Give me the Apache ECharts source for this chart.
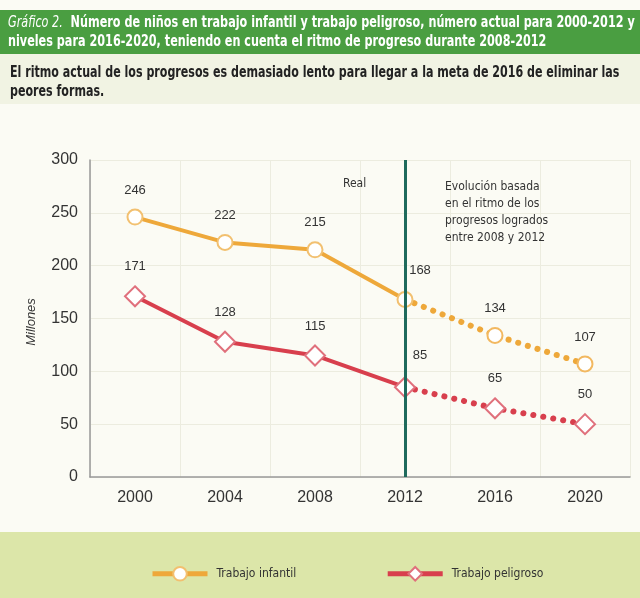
<!DOCTYPE html>
<html><head><meta charset="utf-8">
<script src="https://cdn.jsdelivr.net/npm/echarts@6/dist/echarts.min.js"></script>
<style>html,body{margin:0;padding:0;background:#fbfbf4}#c{width:640px;height:598px}</style>
</head><body><div id="c"></div>
<script>
const categories = ['2000','2004','2008','2012','2016','2020'];
const infantilReal = [246, 222, 215, 168, null, null];
const infantilProj = [null, null, null, 168, 134, 107];
const peligrosoReal = [171, 128, 115, 85, null, null];
const peligrosoProj = [null, null, null, 85, 65, 50];
const yTicks = [0, 50, 100, 150, 200, 250, 300];

const ORANGE = '#eea83a', RED = '#d83f4d';
const FONT = '"Liberation Sans Narrow","DejaVu Sans Condensed",sans-serif';
const LFONT = '"Liberation Sans",sans-serif';

function realData(arr){
  return arr.map((v,i)=> v===null ? null : (i===3 ? {value:v, label:{offset:[15,-2]}} : v));
}
function projData(arr){
  return arr.map((v,i)=> v===null ? null : (i===3 ? {value:v, symbol:'none', label:{show:false}} : v));
}
const labelCfg = {show:true, position:'top', distance:12, color:'#333', fontSize:13, fontFamily:LFONT};

const chart = echarts.init(document.getElementById('c'));
chart.setOption({
  backgroundColor:'#fbfbf4',
  animation:false,
  graphic:[
    {type:'rect', shape:{x:0,y:10,width:640,height:44}, style:{fill:'#4a9e41'}, z:-10},
    {type:'rect', shape:{x:0,y:54,width:640,height:50}, style:{fill:'#f1f3e3'}, z:-10},
    {type:'rect', shape:{x:0,y:532,width:640,height:66}, style:{fill:'#dce6a9'}, z:-10},
    {type:'text', z:20, x:8, y:13, scaleX:0.805, style:{rich:{
        a:{fontStyle:'italic', fontSize:15.5, fill:'#fff', fontFamily:FONT},
        b:{fontWeight:'bold', fontSize:15.5, fill:'#fff', fontFamily:FONT}},
      text:'{a|Gráfico 2.}{b|  Número de niños en trabajo infantil y trabajo peligroso, número actual para 2000-2012 y}\n{b|niveles para 2016-2020, teniendo en cuenta el ritmo de progreso durante 2008-2012}',
      lineHeight:19}},
    {type:'text', z:20, x:10, y:63, scaleX:0.795, style:{text:'El ritmo actual de los progresos es demasiado lento para llegar a la meta de 2016 de eliminar las\npeores formas.', fontWeight:'bold', fontSize:15.5, fill:'#222', fontFamily:FONT, lineHeight:19}},
    {type:'text', z:20, x:343, y:178, style:{text:'Real', fontSize:12, fill:'#333', fontFamily:FONT}},
    {type:'text', z:20, x:445, y:178, style:{text:'Evolución basada\nen el ritmo de los\nprogresos logrados\nentre 2008 y 2012', fontSize:12, fill:'#333', fontFamily:FONT, lineHeight:17}},
    {type:'text', z:20, rotation:Math.PI/2, x:31, y:322, style:{text:'Millones', fontSize:13, fontStyle:'italic', fill:'#333', fontFamily:LFONT, align:'center', verticalAlign:'middle'}}
  ],
  grid:{left:90, right:10, top:160, bottom:121},
  legend:{
    data:['Trabajo infantil','Trabajo peligroso'],
    left:145, top:561, itemWidth:55, itemHeight:17, itemGap:89,
    lineStyle:{width:5},
    textStyle:{fontSize:12, color:'#333', fontFamily:FONT, padding:[0,0,0,4]}
  },
  xAxis:{
    type:'category', data:categories, boundaryGap:true,
    axisLine:{lineStyle:{color:'#999', width:1.5}},
    axisTick:{show:false},
    axisLabel:{fontSize:16, color:'#333', margin:13, fontFamily:LFONT},
    splitLine:{show:true, lineStyle:{color:'#ececdf'}}
  },
  yAxis:{
    type:'value', min:0, max:300, interval:50,
    axisLine:{show:true, lineStyle:{color:'#999', width:1.5}},
    axisTick:{show:false},
    axisLabel:{fontSize:16, color:'#333', margin:12, fontFamily:LFONT, customValues:yTicks},
    splitLine:{lineStyle:{color:'#ececdf'}}
  },
  series:[
    {name:'Trabajo infantil', type:'line', data:realData(infantilReal), symbol:'circle', symbolSize:15,
      lineStyle:{color:ORANGE, width:4}, itemStyle:{color:'#fff', borderColor:'#f2c070', borderWidth:2},
      label:labelCfg, z:3,
      markLine:{silent:true, symbol:'none', label:{show:false}, lineStyle:{color:'#1f6a5c', width:3, type:'solid'},
        data:[{xAxis:'2012'}]}},
    {name:'infantilProj', type:'line', data:projData(infantilProj), symbol:'circle', symbolSize:15,
      lineStyle:{color:ORANGE, width:6, type:[0.1,10], cap:'round'}, itemStyle:{color:'#fff', borderColor:'#f2b860', borderWidth:2},
      label:labelCfg, z:3},
    {name:'Trabajo peligroso', type:'line', data:realData(peligrosoReal), symbol:'diamond', symbolSize:20,
      lineStyle:{color:RED, width:4}, itemStyle:{color:'#fff', borderColor:'#e0707c', borderWidth:2},
      label:labelCfg, z:3},
    {name:'peligrosoProj', type:'line', data:projData(peligrosoProj), symbol:'diamond', symbolSize:20,
      lineStyle:{color:RED, width:6, type:[0.1,10], cap:'round'}, itemStyle:{color:'#fff', borderColor:'#e0707c', borderWidth:2},
      label:labelCfg, z:3}
  ]
});
</script></body></html>
